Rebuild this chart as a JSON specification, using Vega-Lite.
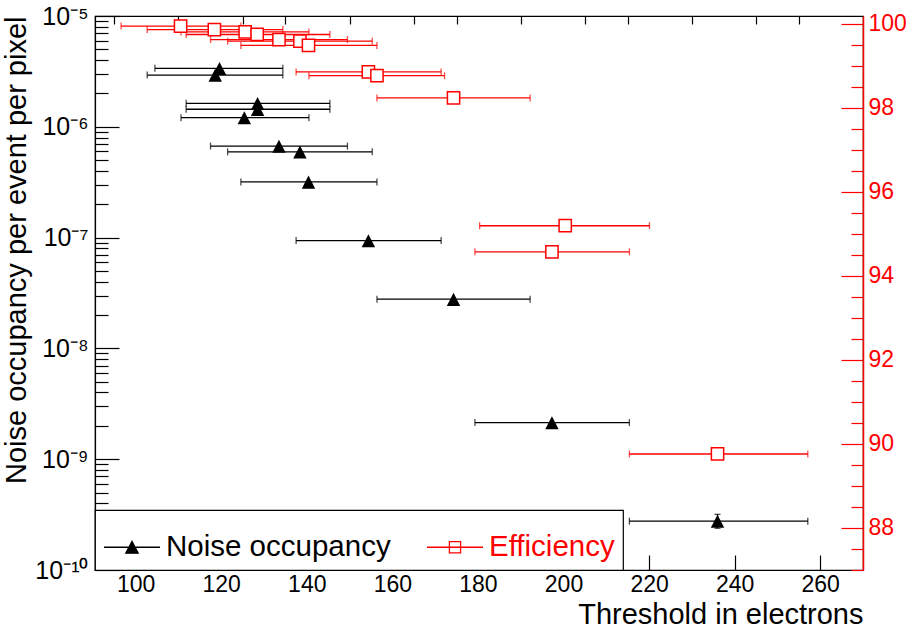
{
  "$schema": "https://vega.github.io/schema/vega-lite/v6.json",
  "width": 768,
  "height": 554,
  "autosize": {"type": "none"},
  "padding": {"left": 95, "top": 16, "right": 43, "bottom": 63},
  "background": "white",
  "config": {
    "font": "Liberation Sans",
    "view": {"stroke": "black", "strokeWidth": 1.2},
    "axis": {"grid": false, "labelFlush": false, "labelOverlap": false, "labelBound": false, "titleFontWeight": "normal", "labelFont": "Liberation Sans", "titleFont": "Liberation Sans"},
    "legend": {"strokeWidth": 1.2}
  },
  "datasets": {
    "noise": [
      {"t": 119.6, "lo": 104.5, "hi": 134.4, "n": 3.37e-6},
      {"t": 118.6, "lo": 102.7, "hi": 134.4, "n": 2.93e-6},
      {"t": 128.5, "lo": 111.8, "hi": 145.4, "n": 1.63e-6},
      {"t": 128.5, "lo": 111.8, "hi": 145.4, "n": 1.44e-6},
      {"t": 125.4, "lo": 110.6, "hi": 140.5, "n": 1.21e-6},
      {"t": 133.5, "lo": 117.5, "hi": 149.5, "n": 6.7e-7},
      {"t": 138.4, "lo": 121.5, "hi": 155.3, "n": 5.94e-7},
      {"t": 140.4, "lo": 124.6, "hi": 156.4, "n": 3.18e-7},
      {"t": 154.4, "lo": 137.5, "hi": 171.4, "n": 9.4e-8},
      {"t": 174.3, "lo": 156.4, "hi": 192.2, "n": 2.78e-8},
      {"t": 197.3, "lo": 179.3, "hi": 215.4, "n": 2.14e-9},
      {"t": 236.0, "lo": 215.4, "hi": 257.1, "n": 2.76e-10, "nlo": 2.38e-10, "nhi": 3.18e-10}
    ],
    "eff": [
      {"t": 110.5, "lo": 96.6, "hi": 124.6, "e": 99.94},
      {"t": 118.4, "lo": 102.7, "hi": 134.4, "e": 99.857},
      {"t": 125.6, "lo": 110.6, "hi": 140.5, "e": 99.80},
      {"t": 128.4, "lo": 111.8, "hi": 145.4, "e": 99.74},
      {"t": 133.5, "lo": 117.5, "hi": 149.5, "e": 99.62},
      {"t": 138.4, "lo": 121.5, "hi": 155.3, "e": 99.58},
      {"t": 140.4, "lo": 124.6, "hi": 156.4, "e": 99.48},
      {"t": 154.4, "lo": 137.5, "hi": 171.4, "e": 98.85},
      {"t": 156.4, "lo": 140.5, "hi": 172.2, "e": 98.76},
      {"t": 174.3, "lo": 156.4, "hi": 192.2, "e": 98.23},
      {"t": 200.4, "lo": 180.4, "hi": 220.1, "e": 95.19},
      {"t": 197.3, "lo": 179.3, "hi": 215.4, "e": 94.57},
      {"t": 236.0, "lo": 215.4, "hi": 257.1, "e": 89.76}
    ],
    "series": [
      {"series": "Noise occupancy"},
      {"series": "Efficiency"}
    ]
  },
  "resolve": {"scale": {"y": "independent"}, "axis": {"x": "independent"}},
  "layer": [
    {
      "data": {"name": "noise"},
      "resolve": {"axis": {"y": "independent"}},
      "layer": [
        {
          "mark": {"type": "errorbar", "color": "black", "thickness": 1.3, "ticks": {"size": 7, "thickness": 1.3}},
          "encoding": {
            "x": {"field": "lo", "type": "quantitative", "title": "Threshold in electrons",
              "scale": {"domain": [90.5, 270], "nice": false, "zero": false},
              "axis": {
                "values": [100, 120, 140, 160, 180, 200, 220, 240, 260],
                "tickSize": -15, "tickColor": "black", "tickWidth": 1.2,
                "domainColor": "black", "domainWidth": 1.2,
                "labelFontSize": 23, "labelColor": "black", "labelPadding": 18,
                "labelFlush": false, "labelOverlap": false,
                "titleFontSize": 29, "titleColor": "black", "titleAnchor": "end",
                "titleBaseline": "alphabetic", "titleY": 53
              }
            },
            "x2": {"field": "hi"},
            "y": {"field": "n", "type": "quantitative", "title": "Noise occupancy per event per pixel",
              "scale": {"type": "log", "domain": [1e-10, 1e-5], "nice": false},
              "axis": {
                "orient": "left",
                "values": [1e-10, 1e-9, 1e-8, 1e-7, 1e-6, 1e-5],
                "tickSize": -24, "tickColor": "black", "tickWidth": 1.2,
                "domainColor": "black", "domainWidth": 1.2,
                "labelExpr": "round(log(datum.value)/LN10) == -5 ? '10⁻⁵' : round(log(datum.value)/LN10) == -6 ? '10⁻⁶' : round(log(datum.value)/LN10) == -7 ? '10⁻⁷' : round(log(datum.value)/LN10) == -8 ? '10⁻⁸' : round(log(datum.value)/LN10) == -9 ? '10⁻⁹' : '10⁻¹⁰'",
                "labelFontSize": 25, "labelColor": "black", "labelPadding": 31,
                "labelFlush": false, "labelOverlap": false,
                "titleFontSize": 29, "titleColor": "black", "titleAnchor": "end", "titlePadding": 3
              }
            }
          }
        },
        {
          "transform": [{"filter": "isValid(datum.nlo)"}],
          "mark": {"type": "errorbar", "color": "black", "thickness": 1.3, "ticks": {"size": 6, "thickness": 1.3}},
          "encoding": {
            "x": {"field": "t", "type": "quantitative", "title": "Threshold in electrons", "scale": {"domain": [90.5, 270], "nice": false, "zero": false}},
            "y": {"field": "nlo", "type": "quantitative", "scale": {"type": "log", "domain": [1e-10, 1e-5], "nice": false}, "axis": null},
            "y2": {"field": "nhi"}
          }
        },
        {
          "mark": {"type": "point", "shape": "M-1,1L0,-0.95L1,1Z", "filled": true, "color": "black", "size": 180, "opacity": 1},
          "encoding": {
            "x": {"field": "t", "type": "quantitative", "title": "Threshold in electrons", "scale": {"domain": [90.5, 270], "nice": false, "zero": false}},
            "y": {"field": "n", "type": "quantitative", "scale": {"type": "log", "domain": [1e-10, 1e-5], "nice": false},
              "axis": {
                "orient": "left", "title": null, "labels": false, "domain": false,
                "values": [2e-10,3e-10,4e-10,5e-10,6e-10,7e-10,8e-10,9e-10,2e-9,3e-9,4e-9,5e-9,6e-9,7e-9,8e-9,9e-9,2e-8,3e-8,4e-8,5e-8,6e-8,7e-8,8e-8,9e-8,2e-7,3e-7,4e-7,5e-7,6e-7,7e-7,8e-7,9e-7,2e-6,3e-6,4e-6,5e-6,6e-6,7e-6,8e-6,9e-6],
                "tickSize": -13, "tickColor": "black", "tickWidth": 1.2
              }
            }
          }
        }
      ]
    },
    {
      "data": {"name": "eff"},
      "resolve": {"axis": {"y": "independent"}},
      "layer": [
        {
          "mark": {"type": "errorbar", "color": "red", "thickness": 1.3, "ticks": {"size": 7, "thickness": 1.3}},
          "encoding": {
            "x": {"field": "lo", "type": "quantitative", "title": null,
              "scale": {"domain": [90.5, 270], "nice": false, "zero": false},
              "axis": {
                "values": [95,105,110,115,125,130,135,145,150,155,165,170,175,185,190,195,205,210,215,225,230,235,245,250,255,265],
                "tickSize": -8, "tickColor": "black", "tickWidth": 1.2,
                "labels": false, "domain": false, "title": null
              }
            },
            "x2": {"field": "hi"},
            "y": {"field": "e", "type": "quantitative", "title": null,
              "scale": {"domain": [87, 100.18], "nice": false, "zero": false},
              "axis": {
                "orient": "right", "title": null,
                "values": [88, 90, 92, 94, 96, 98, 100],
                "tickSize": -22, "tickColor": "red", "tickWidth": 1.2,
                "domainColor": "red", "domainWidth": 1.5,
                "labelFontSize": 23, "labelColor": "red", "labelPadding": 27,
                "labelFlush": false, "labelOverlap": false
              }
            }
          }
        },
        {
          "mark": {"type": "point", "shape": "square", "filled": true, "fill": "white", "stroke": "red", "size": 150, "strokeWidth": 1.5, "opacity": 1},
          "encoding": {
            "x": {"field": "t", "type": "quantitative", "title": null, "scale": {"domain": [90.5, 270], "nice": false, "zero": false}},
            "y": {"field": "e", "type": "quantitative", "title": null, "scale": {"domain": [87, 100.18], "nice": false, "zero": false},
              "axis": {
                "orient": "right", "title": null, "labels": false, "domain": false,
                "values": [87, 87.5, 88.5, 89, 89.5, 90.5, 91, 91.5, 92.5, 93, 93.5, 94.5, 95, 95.5, 96.5, 97, 97.5, 98.5, 99, 99.5],
                "tickSize": -12, "tickColor": "red", "tickWidth": 1.2
              }
            }
          }
        }
      ]
    },
    {
      "data": {"name": "series"},
      "mark": {"type": "point", "filled": true, "opacity": 0},
      "encoding": {
        "shape": {"field": "series", "type": "nominal",
          "scale": {"domain": ["Noise occupancy", "Efficiency"], "range": ["M-1,0H1M-0.22,0.21L0,-0.21L0.22,0.21Z", "M-1,0H1M-0.2,-0.2H0.2V0.2H-0.2Z"]},
          "legend": {
            "title": null, "orient": "bottom-left", "offset": 0, "direction": "horizontal", "columns": 2,
            "strokeColor": "black", "fillColor": "white", "padding": 8,
            "symbolSize": 3136, "symbolStrokeWidth": 1.3, "symbolOpacity": 1,
            "labelFont": "Liberation Sans", "labelFontSize": 29.5, "labelOffset": 5, "labelLimit": 500, "columnPadding": 33,
            "labelColor": {"expr": "datum.value === 'Efficiency' ? 'red' : 'black'"}
          }
        },
        "fill": {"field": "series", "type": "nominal",
          "scale": {"domain": ["Noise occupancy", "Efficiency"], "range": ["black", "white"]},
          "legend": {
            "title": null, "orient": "bottom-left", "offset": 0, "direction": "horizontal", "columns": 2,
            "strokeColor": "black", "fillColor": "white", "padding": 8,
            "symbolSize": 3136, "symbolStrokeWidth": 1.3, "symbolOpacity": 1,
            "labelFont": "Liberation Sans", "labelFontSize": 29.5, "labelOffset": 5, "labelLimit": 500, "columnPadding": 33,
            "labelColor": {"expr": "datum.value === 'Efficiency' ? 'red' : 'black'"}
          }
        },
        "stroke": {"field": "series", "type": "nominal",
          "scale": {"domain": ["Noise occupancy", "Efficiency"], "range": ["black", "red"]},
          "legend": {
            "title": null, "orient": "bottom-left", "offset": 0, "direction": "horizontal", "columns": 2,
            "strokeColor": "black", "fillColor": "white", "padding": 8,
            "symbolSize": 3136, "symbolStrokeWidth": 1.3, "symbolOpacity": 1,
            "labelFont": "Liberation Sans", "labelFontSize": 29.5, "labelOffset": 5, "labelLimit": 500, "columnPadding": 33,
            "labelColor": {"expr": "datum.value === 'Efficiency' ? 'red' : 'black'"}
          }
        }
      }
    }
  ]
}
